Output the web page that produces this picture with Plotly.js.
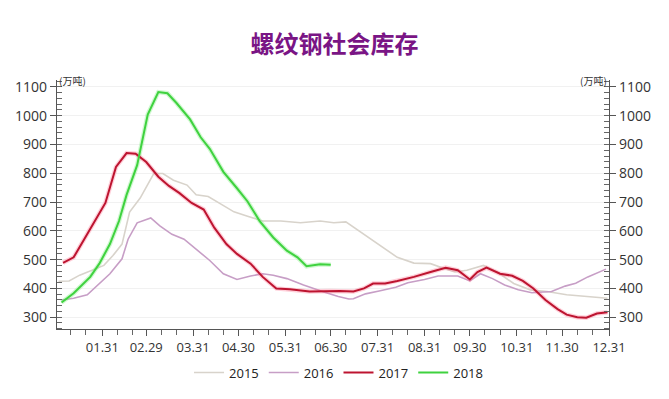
<!DOCTYPE html>
<html>
<head>
<meta charset="utf-8">
<script src="https://cdn.plot.ly/plotly-3.0.1.min.js"></script>
<style>html,body{margin:0;padding:0;background:#fff;}#chart{width:669px;height:399px;}</style>
</head>
<body>
<div id="chart"></div>
<script>
// Month-end tick positions (leap-year calendar) and labels
const tickDates = ['2016-01-31','2016-02-29','2016-03-31','2016-04-30','2016-05-31','2016-06-30','2016-07-31','2016-08-31','2016-09-30','2016-10-31','2016-11-30','2016-12-31'];
const tickLabels = ['01.31','02.29','03.31','04.30','05.31','06.30','07.31','08.31','09.30','10.31','11.30','12.31'];

const dates2015 = ['2016-01-02','2016-01-09','2016-01-16','2016-01-24','2016-02-01','2016-02-07','2016-02-13','2016-02-18','2016-02-25','2016-03-05','2016-03-11','2016-03-18','2016-03-27','2016-04-02','2016-04-10','2016-04-19','2016-04-27','2016-05-06','2016-05-16','2016-05-28','2016-06-10','2016-06-23','2016-07-02','2016-07-10','2016-07-22','2016-08-02','2016-08-13','2016-08-24','2016-09-04','2016-09-13','2016-09-20','2016-09-28','2016-10-09','2016-10-18','2016-10-29','2016-11-09','2016-11-20','2016-12-03','2016-12-14','2016-12-30'];
const values2015 = [425,426,446,463,480,514,554,665,714,799,799,776,759,725,719,691,666,651,634,634,628,634,628,631,588,549,508,488,486,469,457,463,480,457,417,395,389,378,374,366];

const dates2016 = ['2016-01-04','2016-01-12','2016-01-21','2016-01-29','2016-02-05','2016-02-13','2016-02-17','2016-02-23','2016-03-03','2016-03-09','2016-03-17','2016-03-25','2016-04-02','2016-04-11','2016-04-20','2016-04-29','2016-05-08','2016-05-16','2016-05-23','2016-06-01','2016-06-12','2016-06-21','2016-06-26','2016-07-05','2016-07-12','2016-07-15','2016-07-23','2016-08-01','2016-08-12','2016-08-20','2016-08-31','2016-09-09','2016-09-22','2016-09-30','2016-10-07','2016-10-15','2016-10-23','2016-11-01','2016-11-10','2016-11-23','2016-12-02','2016-12-09','2016-12-17','2016-12-29'];
const values2016 = [360,366,378,417,451,503,571,628,645,617,588,571,537,497,451,431,443,451,446,434,412,395,387,372,363,364,381,391,404,420,431,443,443,426,451,434,412,395,385,389,408,418,440,467];

const dates2017 = ['2016-01-05','2016-01-12','2016-01-19','2016-01-26','2016-02-02','2016-02-09','2016-02-16','2016-02-22','2016-02-29','2016-03-08','2016-03-15','2016-03-22','2016-03-30','2016-04-07','2016-04-14','2016-04-22','2016-04-29','2016-05-08','2016-05-16','2016-05-25','2016-06-03','2016-06-16','2016-06-29','2016-07-06','2016-07-15','2016-07-22','2016-07-28','2016-08-05','2016-08-13','2016-08-24','2016-09-04','2016-09-14','2016-09-22','2016-09-30','2016-10-05','2016-10-11','2016-10-20','2016-10-28','2016-11-04','2016-11-11','2016-11-19','2016-11-27','2016-12-03','2016-12-10','2016-12-16','2016-12-23','2016-12-30'];
const values2017 = [489,508,571,634,697,822,870,868,839,788,756,731,697,674,611,554,520,486,440,400,397,389,391,391,389,400,417,417,426,440,457,472,463,431,457,472,451,444,426,400,360,328,309,300,298,313,317];

const dates2018 = ['2016-01-04','2016-01-12','2016-01-23','2016-01-29','2016-02-05','2016-02-11','2016-02-16','2016-02-23','2016-03-01','2016-03-08','2016-03-14','2016-03-20','2016-03-29','2016-04-05','2016-04-11','2016-04-20','2016-04-29','2016-05-06','2016-05-14','2016-05-23','2016-06-01','2016-06-08','2016-06-14','2016-06-23','2016-06-30'];
const values2018 = [351,383,440,486,554,634,725,828,1004,1082,1078,1044,987,925,885,805,748,702,634,577,531,508,477,484,482];

const seriesNames = ['2015','2016','2017','2018'];

// minor tick positions: 10th and 20th of each month
const minorTicks = [];
for (let m = 1; m <= 12; m++) {
  const mm = String(m).padStart(2, '0');
  minorTicks.push('2016-' + mm + '-10', '2016-' + mm + '-20');
}

const font = 'Segoe UI, "Open Sans", "Noto Sans", sans-serif';
const traces = [
  {x: dates2015, y: values2015, name: seriesNames[0], type: 'scatter', mode: 'lines', line: {color: '#d8d3cb', width: 1.6}},
  {x: dates2016, y: values2016, name: seriesNames[1], type: 'scatter', mode: 'lines', line: {color: '#c79ec6', width: 1.6}},
  // soft glow under the 2017 and 2018 lines
  {x: dates2018, y: values2018, type: 'scatter', mode: 'lines', line: {color: 'rgba(120,235,120,0.35)', width: 4.5}, showlegend: false, hoverinfo: 'skip'},
  {x: dates2017, y: values2017, type: 'scatter', mode: 'lines', line: {color: 'rgba(255,120,150,0.35)', width: 4.5}, showlegend: false, hoverinfo: 'skip'},
  {x: dates2017, y: values2017, name: seriesNames[2], type: 'scatter', mode: 'lines', line: {color: '#bd1430', width: 2}},
  {x: dates2018, y: values2018, name: seriesNames[3], type: 'scatter', mode: 'lines', line: {color: '#3fd23f', width: 2}},
  {x: dates2015, y: values2015, yaxis: 'y2', type: 'scatter', mode: 'lines', line: {color: 'rgba(0,0,0,0)', width: 0}, showlegend: false, hoverinfo: 'skip'}
];

const yRange = [259, 1124];
const yCommon = {
  range: yRange, tickvals: [300,400,500,600,700,800,900,1000,1100],
  ticks: 'outside', ticklen: 6, tickcolor: '#555', tickwidth: 1,
  showline: true, linecolor: '#555', linewidth: 1.2,
  tickfont: {family: font, size: 14, color: '#333'},
  minor: {dtick: 20, tick0: 0, ticks: 'inside', ticklen: 5, tickcolor: '#666', showgrid: false},
  zeroline: false
};

const layout = {
  width: 669, height: 399,
  margin: {l: 57, r: 60, t: 80, b: 66},
  paper_bgcolor: '#ffffff', plot_bgcolor: '#ffffff',
  title: {text: '<b>螺纹钢社会库存</b>', x: 0.5, xanchor: 'center', y: 0.888, yanchor: 'middle',
          font: {family: '"Noto Sans CJK SC", sans-serif', size: 24, color: '#7a1585'}},
  showlegend: true,
  legend: {orientation: 'h', x: 0.51, xanchor: 'center', y: -0.175, yanchor: 'middle',
           font: {family: font, size: 13, color: '#222'}, itemwidth: 30, traceorder: 'normal'},
  xaxis: {
    type: 'date', range: ['2016-01-01', '2016-12-31'],
    tickmode: 'array', tickvals: tickDates, ticktext: tickLabels,
    ticks: 'outside', ticklen: 6, tickcolor: '#555', showline: true, linecolor: '#555', linewidth: 1.2,
    showgrid: false, tickfont: {family: font, size: 13, color: '#333'},
    minor: {tickmode: 'array', tickvals: minorTicks, ticks: 'outside', ticklen: 5, tickcolor: '#666', showgrid: false}
  },
  yaxis: Object.assign({}, yCommon, {side: 'left', showgrid: true, gridcolor: '#f1f1f1', gridwidth: 1}),
  yaxis2: Object.assign({}, yCommon, {side: 'right', overlaying: 'y', showgrid: false}),
  annotations: [
    {text: '(万吨)', xref: 'paper', yref: 'paper', x: 0.0, y: 1.0, xanchor: 'left', yanchor: 'middle', showarrow: false,
     font: {family: '"Noto Sans CJK SC", sans-serif', size: 10, color: '#333'}},
    {text: '(万吨)', xref: 'paper', yref: 'paper', x: 1.0, y: 1.0, xanchor: 'right', yanchor: 'middle', showarrow: false,
     font: {family: '"Noto Sans CJK SC", sans-serif', size: 10, color: '#333'}}
  ]
};

Plotly.newPlot('chart', traces, layout, {displayModeBar: false, staticPlot: true});
</script>
</body>
</html>
